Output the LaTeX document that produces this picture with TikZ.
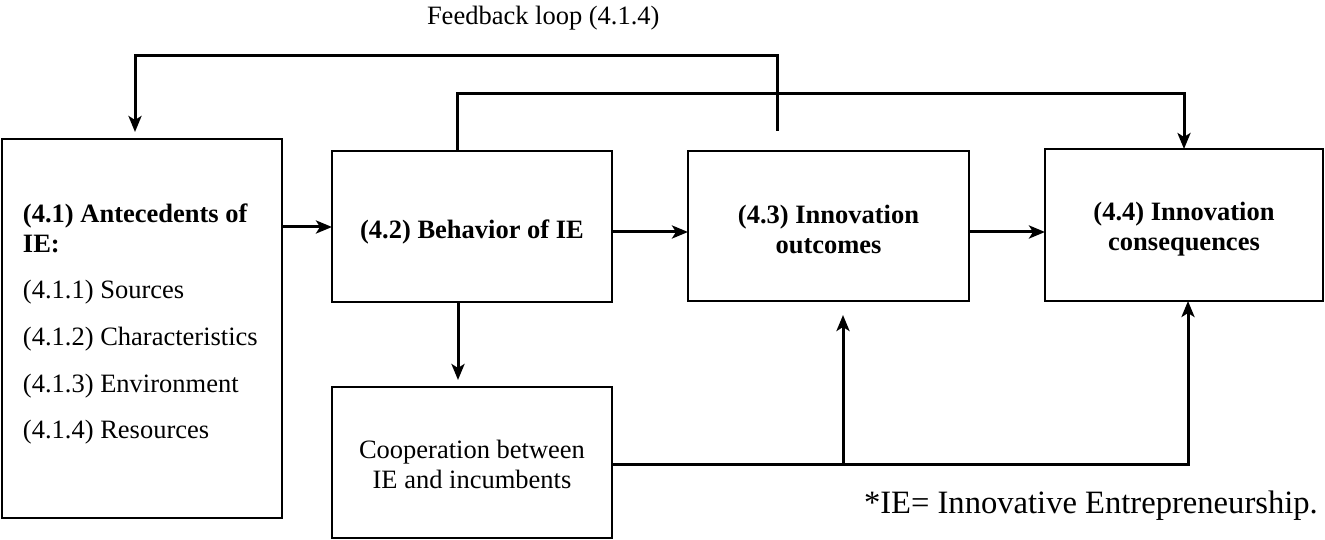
\documentclass[tikz,border=0pt]{standalone}
\usepackage{fontspec}
\setmainfont{Liberation Serif}
\usetikzlibrary{arrows.meta,calc}
\begin{document}
\begin{tikzpicture}[x=1pt,y=-1pt,
  box/.style={draw, line width=2.2pt, inner sep=0pt, outer sep=0pt},
  boxtxt/.style={inner sep=0pt, outer sep=0pt, align=center,
    font=\fontsize{26.5}{30}\selectfont\bfseries},
  plaintxt/.style={boxtxt, font=\fontsize{26.5}{30}\selectfont},
  conn/.style={line width=3pt, -{Stealth[length=16pt,width=13pt,inset=4pt]}},
  line/.style={line width=3pt},
  txt/.style={inner sep=0pt, outer sep=0pt, anchor=base west, font=\fontsize{26.5}{30}\selectfont},
  btxt/.style={txt, font=\fontsize{26.5}{30}\selectfont\bfseries}]
\useasboundingbox (0,0) rectangle (1325,540);
\node[box, minimum width=280pt, minimum height=379pt] (A) at (142,328.5) {};
\node[box, minimum width=280pt, minimum height=151pt] (B) at (472,226.5) {};
\node[box, minimum width=281pt, minimum height=150pt] (C) at (828.5,226) {};
\node[box, minimum width=278pt, minimum height=152pt] (D) at (1184,225) {};
\node[box, minimum width=280pt, minimum height=151pt] (E) at (472,462.5) {};
\node[boxtxt] (Bt) at ([yshift=-5pt]B.center) {(4.2) Behavior of IE};
\node[boxtxt] (Ct) at ([yshift=-3pt]C.center) {(4.3) Innovation\\outcomes};
\node[boxtxt] (Dt) at ([yshift=-4pt]D.center) {(4.4) Innovation\\consequences};
\node[plaintxt] (Et) at ([yshift=-2pt]E.center) {Cooperation between\\IE and incumbents};
\node[btxt] (a1) at (23,222.7) {(4.1) Antecedents of};
\node[btxt] (a2) at (23,252) {IE:};
\node[txt] (a3) at (23,298) {(4.1.1) Sources};
\node[txt] (a4) at (23,345) {(4.1.2) Characteristics};
\node[txt] (a5) at (23,392) {(4.1.3) Environment};
\node[txt] (a6) at (23,438) {(4.1.4) Resources};
\node[txt] (fbl) at (427,25) {Feedback loop (4.1.4)};
\node[txt, font=\fontsize{32.6}{36}\selectfont] (note) at (864,513) {*IE= Innovative Entrepreneurship.};
% main flow
\draw[conn] (A.east |- 0,227) -- (B.west |- 0,227);
\draw[conn] (B.east |- 0,232) -- (C.west |- 0,232);
\draw[conn] (C.east |- 0,232) -- (D.west |- 0,232);
% feedback loop
\coordinate (fb) at (777,131);
\coordinate (fbtop) at (777,56);
\draw[conn, shorten >=7pt] (fb) -- (fbtop) -| ([xshift=-7pt]A.north);
% B to D
\draw[conn] ([xshift=-15pt]B.north) -- ++(0,-57) -| (D.north);
% B to E
\draw[conn, shorten >=7pt] ([xshift=-14pt]B.south) -- ([xshift=-14pt]E.north);
% E to C and D
\coordinate (j) at (843,464);
\draw[line] (E.east |- j) -- (j);
\draw[conn, shorten >=14pt] (j) -- (j |- C.south);
\draw[conn] (j) -| ([xshift=4pt]D.south);
\end{tikzpicture}
\end{document}
